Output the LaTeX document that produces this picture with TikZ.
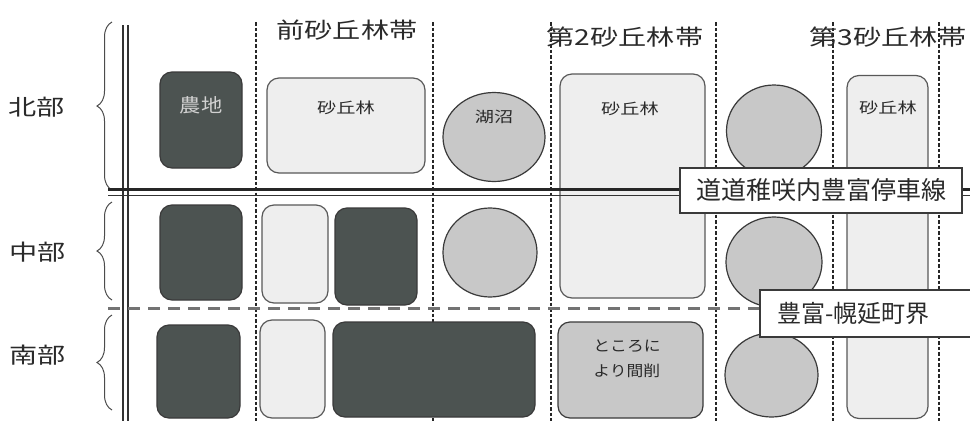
\documentclass[tikz,border=0pt]{standalone}
\usepackage{fontspec}
\setmainfont{Noto Sans CJK JP}
\newfontfamily\wide[FakeStretch=1.28]{Noto Sans CJK JP}
\newfontfamily\semi[FakeStretch=1.12]{Noto Sans CJK JP}
\usetikzlibrary{decorations.pathreplacing,shapes.geometric}
\definecolor{dk}{HTML}{4C5351}
\definecolor{lt}{HTML}{EEEEEE}
\definecolor{md}{HTML}{C8C8C8}
\definecolor{ink}{HTML}{2A2A2A}
\definecolor{edge}{HTML}{3A3A3A}
\begin{document}
\begin{tikzpicture}[x=1pt,y=-1pt,
  darkbox/.style={draw=edge, fill=dk, rounded corners=12pt, line width=1.2pt, inner sep=0pt},
  lightbox/.style={draw=edge!85, fill=lt, rounded corners=12pt, line width=1.2pt, inner sep=0pt},
  midbox/.style={draw=edge, fill=md, rounded corners=12pt, line width=1.2pt, inner sep=0pt},
  lake/.style={ellipse, draw=edge, fill=md, line width=1.2pt, inner sep=0pt},
  zoneline/.style={draw=black!85, line width=1.6pt, dash pattern=on 3.5pt off 2pt},
  rowlbl/.style={text=ink, font=\wide\fontsize{22}{26}\selectfont, inner sep=0pt},
  headlbl/.style={text=ink, font=\wide\fontsize{22}{26}\selectfont, inner sep=0pt},
  small/.style={text=ink, font=\wide\fontsize{15}{18}\selectfont, inner sep=0pt},
  tag/.style={draw=edge, fill=white, line width=1.4pt, inner sep=0pt, text=ink},
  bracestyle/.style={draw=black!70, line width=1pt, decorate, decoration={brace, amplitude=15pt}}
]
\useasboundingbox (0,0) rectangle (970,421);
\fill[white] (0,0) rectangle (970,421);

% row labels
\node[rowlbl] (north) at (37,107) {北部};
\node[rowlbl] (mid) at (38,252) {中部};
\node[rowlbl] (south) at (38,355) {南部};

% braces
\draw[bracestyle] (112,190) -- (112,22);
\draw[bracestyle] (112,300) -- (112,202);
\draw[bracestyle] (112,410) -- (112,315);

% double vertical line
\draw[line width=1.5pt, black!80] (123,25) -- (123,421);
\draw[line width=1.5pt, black!80] (128,25) -- (128,421);

% zone boundaries
\foreach \xx in {256,433,551,716,833,939}
  \draw[zoneline] (\xx,22) -- (\xx,421);

% headers
\node[headlbl] (h1) at (347,30) {前砂丘林帯};
\node[headlbl] (h2) at (625,37) {第2砂丘林帯};
\node[headlbl] (h3) at (888,37) {第3砂丘林帯};

% north row
\node[darkbox, minimum width=82pt, minimum height=96pt] (f1) at (201,120) {};
\node[text=black!18, font=\semi\fontsize{19}{22}\selectfont, inner sep=0pt] (f1t) at (201,105) {農地};
\node[lightbox, minimum width=158pt, minimum height=95pt] (s1) at (346,125.5) {};
\node[small] (s1t) at (346,108) {砂丘林};
\node[lake, minimum width=102pt, minimum height=89pt] (l1) at (494,137) {};
\node[small] (l1t) at (494,117) {湖沼};
\node[lightbox, minimum width=145pt, minimum height=224pt] (s2) at (632.5,186) {};
\node[small] (s2t) at (630,109) {砂丘林};
\node[lake, minimum width=95pt, minimum height=92pt] (c2) at (774,131) {};
\node[lightbox, minimum width=81pt, minimum height=343pt] (s3) at (887.5,247) {};
\node[small] (s3t) at (888,108) {砂丘林};

% middle row
\node[darkbox, minimum width=82pt, minimum height=95pt] (f2) at (201,252.5) {};
\node[lightbox, minimum width=66pt, minimum height=98pt] (s4) at (295,254) {};
\node[darkbox, minimum width=82pt, minimum height=97pt] (f3) at (376,256.5) {};
\node[lake, minimum width=94pt, minimum height=89pt] (l2) at (490,252.5) {};
\node[lake, minimum width=96pt, minimum height=90pt] (c3) at (774,262) {};

% south row
\node[darkbox, minimum width=83pt, minimum height=93pt] (f4) at (198.5,371.5) {};
\node[lightbox, minimum width=65pt, minimum height=98pt] (s5) at (292.5,369) {};
\node[darkbox, minimum width=202pt, minimum height=95pt] (f5) at (434,369.5) {};
\node[midbox, minimum width=145pt, minimum height=96pt] (m1) at (630.5,370) {};
\node[text=ink, font=\semi\fontsize{15}{25}\selectfont, inner sep=0pt, align=left] (m1t) at (627,359) {ところに\\より間削};
\node[lake, minimum width=93pt, minimum height=84pt] (c4) at (771.5,375) {};

% road (double line)
\draw[line width=2.2pt, black!85] (108,189.5) -- (970,189.5);
\draw[line width=1.4pt, black!80] (108,195.5) -- (970,195.5);

% town boundary
\draw[line width=3pt, black!55, dash pattern=on 12pt off 8pt] (108,308) -- (760,308);

% tags
\node[tag, minimum width=282pt, minimum height=45pt, font=\fontsize{25}{28}\selectfont] (road) at (821,190.5) {道道稚咲内豊富停車線};
\node[tag, minimum width=214pt, minimum height=47pt] (town) at (867,313.5) {};
\node[text=ink, font=\fontsize{24}{27}\selectfont, inner sep=0pt, anchor=west] (townt) at (777,313) {豊富-幌延町界};
\end{tikzpicture}
\end{document}
